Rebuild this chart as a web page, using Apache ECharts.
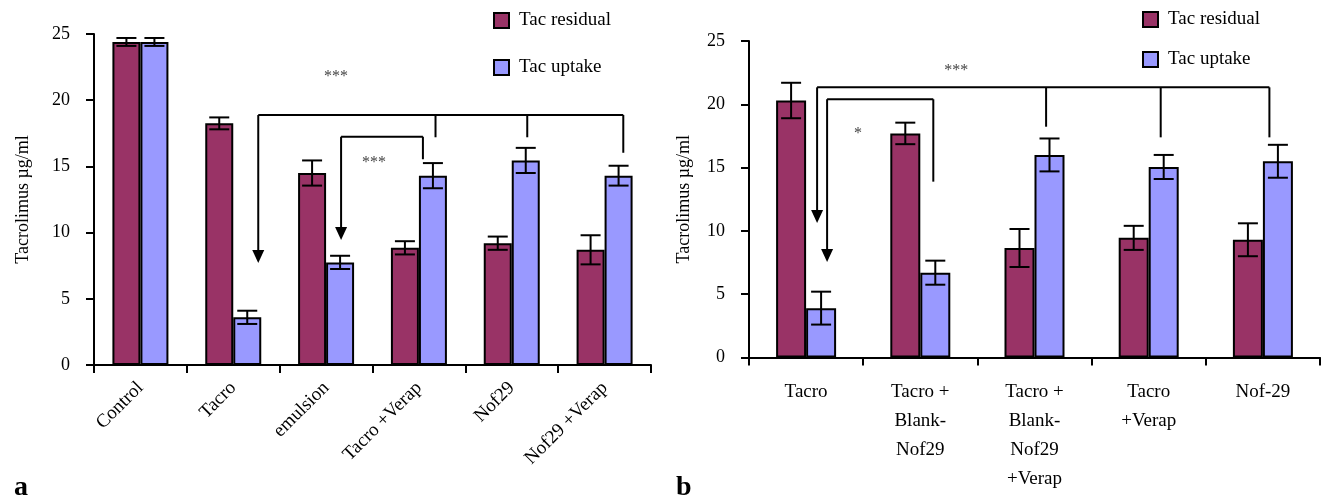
<!DOCTYPE html>
<html>
<head>
<meta charset="utf-8">
<title>Tacrolimus</title>
<script src="https://cdn.jsdelivr.net/npm/echarts@6/dist/echarts.min.js"></script>
<style>
body{margin:0;background:#fff;}
#main{width:1325px;height:502px;}
</style>
</head>
<body>
<div id="main"></div>
<script>
// panel a
var catsA = ['Control', 'Tacro', 'emulsion', 'Tacro +Verap', 'Nof29', 'Nof29 +Verap'];
var residA = [24.4, 18.25, 14.5, 8.85, 9.2, 8.7];
var residAErr = [0.3, 0.45, 0.95, 0.5, 0.5, 1.1];
var uptA = [24.4, 3.6, 7.75, 14.3, 15.45, 14.3];
var uptAErr = [0.3, 0.5, 0.5, 0.95, 0.95, 0.75];
// panel b
var catsB = ['Tacro', 'Tacro +\nBlank-\nNof29', 'Tacro +\nBlank-\nNof29\n+Verap', 'Tacro\n+Verap', 'Nof-29'];
var residB = [20.3, 17.7, 8.65, 9.45, 9.3];
var residBErr = [1.4, 0.85, 1.5, 0.95, 1.3];
var uptB = [3.9, 6.7, 16.0, 15.05, 15.5];
var uptBErr = [1.3, 0.95, 1.3, 0.95, 1.3];
var yTicks = [0, 25, 5];

// significance brackets: [grid, topValue, leftCat, leftDx, arrowTip, drops[[cat,dx,end]]]
var brackets = [
  [0, 18.88, 1, 25, 7.7, [[3, 16.6, 17.2], [4, 15.5, 17.2], [5, 18.7, 16.03]]],
  [0, 17.24, 2, 15, 9.44, [[3, 4, 15.54]]],
  [1, 21.34, 0, 11, 10.62, [[2, 11.6, 18.23], [3, 12, 17.39], [4, 6.5, 17.39]]],
  [1, 20.4, 0, 21, 7.54, [[1, 13, 13.89]]]
];
var stars = [
  [0, '***', 2, 10, 21.8],
  [0, '***', 2, 48, 15.28],
  [1, '***', 1, 36, 22.65],
  [1, '*', 0, 52, 17.7]
];

var RES = '#993366', UPT = '#9999ff';
var FONT = 'Liberation Serif';

function errData(vals, errs) {
  return vals.map(function (v, i) { return [i, v - errs[i], v + errs[i]]; });
}
function errSeries(name, gi, vals, errs, dx) {
  return {
    name: name, type: 'custom', xAxisIndex: gi, yAxisIndex: gi, z: 5,
    data: errData(vals, errs),
    renderItem: function (params, api) {
      var lo = api.coord([api.value(0), api.value(1)]);
      var hi = api.coord([api.value(0), api.value(2)]);
      var x = lo[0] + dx, w = 10;
      var st = { stroke: '#000', lineWidth: 2 };
      return {
        type: 'group', children: [
          { type: 'line', shape: { x1: x, y1: lo[1], x2: x, y2: hi[1] }, style: st },
          { type: 'line', shape: { x1: x - w, y1: lo[1], x2: x + w, y2: lo[1] }, style: st },
          { type: 'line', shape: { x1: x - w, y1: hi[1], x2: x + w, y2: hi[1] }, style: st }
        ]
      };
    }
  };
}

var axisLine = { lineStyle: { color: '#000', width: 2 } };
function yAxis(gi, gap) {
  return {
    type: 'value', gridIndex: gi, min: yTicks[0], max: yTicks[1], interval: yTicks[2],
    name: 'Tacrolimus µg/ml', nameLocation: 'middle', nameGap: gap,
    nameTextStyle: { fontFamily: FONT, fontSize: 18, color: '#000' },
    axisLine: { show: true, lineStyle: axisLine.lineStyle },
    axisTick: { show: true, length: 8, lineStyle: { color: '#000', width: 2 } },
    axisLabel: { fontFamily: FONT, fontSize: 18, color: '#000', margin: 24 },
    splitLine: { show: false }
  };
}
function bar(name, gi, vals, color, w) {
  return {
    name: name, type: 'bar', xAxisIndex: gi, yAxisIndex: gi, data: vals,
    barWidth: w, barGap: '0%',
    itemStyle: { color: color, borderColor: '#000', borderWidth: 2 }
  };
}
function legend(left, top, gap) {
  return {
    left: left, top: top, orient: 'vertical', icon: 'rect', itemWidth: 15, itemHeight: 15, itemGap: gap,
    data: ['Tac residual', 'Tac uptake'], selectedMode: false,
    textStyle: { fontFamily: FONT, fontSize: 19, color: '#000', padding: [0, 0, 0, 5] }
  };
}

var chart = echarts.init(document.getElementById('main'));
var option = {
  animation: false,
  backgroundColor: '#fff',
  grid: [
    { left: 94, top: 34, width: 557, height: 331 },
    { left: 749, top: 41, width: 571, height: 316.5 }
  ],
  legend: [legend(488, 6, 28), legend(1137, 5, 21)],
  xAxis: [
    {
      type: 'category', gridIndex: 0, data: catsA,
      axisLine: axisLine,
      axisTick: { show: true, length: 8, lineStyle: { color: '#000', width: 2 } },
      axisLabel: { fontFamily: FONT, fontSize: 19, color: '#000', rotate: 45, margin: 20, interval: 0 }
    },
    {
      type: 'category', gridIndex: 1, data: catsB,
      axisLine: axisLine,
      axisTick: { show: true, length: 8, lineStyle: { color: '#000', width: 2 } },
      axisLabel: { fontFamily: FONT, fontSize: 19, color: '#000', margin: 20, lineHeight: 29, interval: 0 }
    }
  ],
  yAxis: [yAxis(0, 62), yAxis(1, 56)],
  series: [
    bar('Tac residual', 0, residA, RES, 28),
    bar('Tac uptake', 0, uptA, UPT, 28),
    bar('Tac residual', 1, residB, RES, 30),
    bar('Tac uptake', 1, uptB, UPT, 30),
    errSeries('errRA', 0, residA, residAErr, -14),
    errSeries('errUA', 0, uptA, uptAErr, 14),
    errSeries('errRB', 1, residB, residBErr, -15),
    errSeries('errUB', 1, uptB, uptBErr, 15)
  ]
};
chart.setOption(option);

// annotations placed through the axes
function px(gi, cat, val) {
  return chart.convertToPixel({ xAxisIndex: gi, yAxisIndex: gi }, [cat, val]);
}
var g = [];
var ln = { stroke: '#000', lineWidth: 2 };
brackets.forEach(function (b) {
  var gi = b[0];
  var top = px(gi, b[2], b[1])[1];
  var lx = px(gi, b[2], 0)[0] + b[3];
  var tip = px(gi, b[2], b[4])[1];
  var rx = lx;
  b[5].forEach(function (d) {
    var x = px(gi, d[0], 0)[0] + d[1];
    var y2 = px(gi, d[0], d[2])[1];
    rx = Math.max(rx, x);
    g.push({ type: 'line', shape: { x1: x, y1: top, x2: x, y2: y2 }, style: ln });
  });
  g.push({ type: 'line', shape: { x1: lx, y1: top, x2: rx, y2: top }, style: ln });
  g.push({ type: 'line', shape: { x1: lx, y1: top, x2: lx, y2: tip - 10 }, style: ln });
  g.push({ type: 'polygon', shape: { points: [[lx - 6, tip - 13], [lx + 6, tip - 13], [lx, tip]] }, style: { fill: '#000' } });
});
stars.forEach(function (s) {
  var p = px(s[0], s[2], s[4]);
  g.push({
    type: 'text', x: p[0] + s[3], y: p[1],
    style: { text: s[1], fontFamily: FONT, fontSize: 16, fill: '#444', align: 'center', verticalAlign: 'middle' }
  });
});
g.push({ type: 'text', left: 14, top: 474, style: { text: 'a', fontFamily: FONT, fontSize: 28, fontWeight: 'bold', fill: '#000' } });
g.push({ type: 'text', left: 676, top: 474, style: { text: 'b', fontFamily: FONT, fontSize: 28, fontWeight: 'bold', fill: '#000' } });
chart.setOption({ graphic: g });
</script>
</body>
</html>
